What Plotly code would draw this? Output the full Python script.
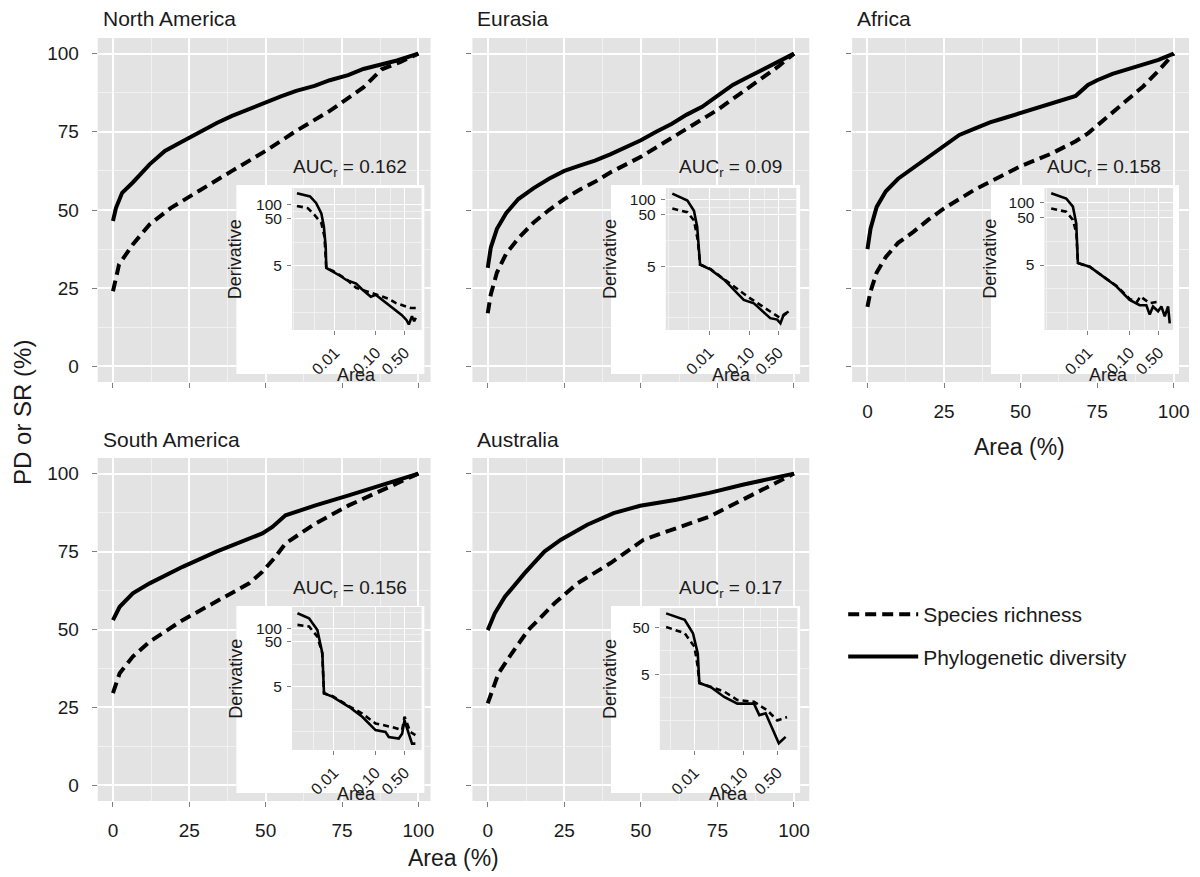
import plotly.graph_objects as go

# page body has an 8px margin, so the figure is drawn 8px right/down of the window origin
OFF = 8
WF, HF = 1192, 869

# ---------------- main curves (Area %, diversity %) ----------------
regions = ["North America", "Eurasia", "Africa", "South America", "Australia"]
auc_values = ["0.162", "0.09", "0.158", "0.156", "0.17"]

na_pd_x = [0, 1, 3, 6.5, 12, 17, 23, 28, 34, 39, 45, 50, 55, 60, 66, 71, 77, 82, 88, 93, 100]
na_pd_y = [46.5, 50.7, 55.5, 58.8, 64.6, 68.9, 72.1, 74.8, 77.8, 80.1, 82.5, 84.4, 86.3, 88.1, 89.7, 91.5, 93.1, 95.1, 96.5, 97.8, 100]
na_sr_x = [0, 2, 6.5, 12, 19, 28, 39, 50, 60, 71, 82, 88, 94, 100]
na_sr_y = [24, 32.6, 39, 45.4, 50.7, 56.1, 62.5, 68.9, 75.3, 81.7, 89.2, 95, 97.3, 100]

eu_pd_x = [0, 1, 3, 6, 10, 15, 20, 25, 30, 35, 40, 45, 50, 55, 60, 65, 70, 75, 80, 85, 90, 95, 100]
eu_pd_y = [31.5, 38, 44, 49, 53.5, 57, 60, 62.5, 64.2, 65.8, 67.8, 70, 72.3, 75, 77.5, 80.5, 83, 86.5, 90, 92.5, 95, 97.5, 100]
eu_sr_x = [0, 1, 3, 6, 10, 15, 20, 25, 30, 35, 40, 45, 50, 55, 60, 65, 70, 75, 80, 85, 90, 95, 100]
eu_sr_y = [17, 23, 30, 36, 41, 46, 50, 53.5, 56.5, 59, 62, 64.5, 67, 70, 73, 76, 79, 82, 85.5, 89, 92.5, 96, 100]

af_pd_x = [0, 1, 3, 6, 10, 15, 20, 25, 30, 35, 40, 45, 50, 55, 60, 65, 68, 72, 75, 80, 85, 90, 95, 100]
af_pd_y = [37.5, 44, 51, 56, 60, 63.5, 67, 70.5, 74, 76, 78, 79.5, 81, 82.5, 84, 85.5, 86.5, 90, 91.5, 93.5, 95, 96.5, 98, 100]
af_sr_x = [0, 1, 3, 6, 10, 15, 20, 25, 30, 35, 40, 45, 50, 55, 60, 65, 68, 72, 75, 80, 85, 90, 95, 100]
af_sr_y = [19, 24, 30, 35, 39.5, 43, 47, 50.5, 53.5, 56.5, 59, 61.5, 64, 66, 68, 70.5, 72, 74.5, 77, 81, 85, 89.5, 94.5, 100]

sa_pd_x = [0, 2.2, 6.5, 12, 22.8, 33.7, 48.9, 52.2, 56.5, 66.3, 77.2, 88, 100]
sa_pd_y = [53, 57.3, 61.6, 64.8, 70.1, 74.9, 80.8, 82.9, 86.6, 89.8, 93, 96.3, 100]
sa_sr_x = [0, 2.2, 6.5, 12, 22.8, 33.7, 44.6, 48.9, 53.2, 56.5, 66.3, 77.2, 88, 100]
sa_sr_y = [29.6, 36, 41.3, 46.1, 53, 58.9, 64.8, 68.5, 73.3, 77.6, 84, 89.8, 94.7, 100]

au_pd_x = [0, 2.3, 5.6, 12, 18.5, 23.9, 32.5, 41.1, 49.8, 61.6, 72.4, 83.2, 100]
au_pd_y = [49.8, 55.2, 60.5, 68, 75, 78.8, 83.6, 87.3, 89.7, 91.6, 93.8, 96.4, 100]
au_sr_x = [0, 3.5, 7.8, 13.2, 21.8, 29.3, 40.1, 50.9, 61.6, 72.4, 83.2, 100]
au_sr_y = [26.3, 35.9, 42.3, 49.8, 58.4, 64.8, 71.3, 78.8, 82.5, 86.2, 91.6, 100]

main_ticks = [0, 25, 50, 75, 100]

# ---------------- inset curves (Area fraction, derivative) ----------------
na_ipd_x = [0.0012, 0.0025, 0.0035, 0.0047, 0.0054, 0.006, 0.0062, 0.009, 0.014, 0.019, 0.026, 0.033, 0.045, 0.06, 0.075, 0.1, 0.14, 0.2, 0.3, 0.42, 0.55, 0.63, 0.75, 0.85, 0.93]
na_ipd_y = [178, 151, 110, 66, 35, 13, 4.5, 3.8, 3.0, 2.5, 2.3, 2.1, 1.6, 1.3, 1.1, 1.2, 0.95, 0.75, 0.55, 0.45, 0.35, 0.28, 0.42, 0.33, 0.39]
na_isr_x = [0.0012, 0.0022, 0.0032, 0.0047, 0.0056, 0.0062, 0.009, 0.019, 0.033, 0.05, 0.1, 0.2, 0.3, 0.5, 0.7, 0.93]
na_isr_y = [95, 85, 61, 41, 21, 4.5, 3.9, 2.6, 1.7, 1.5, 1.23, 1.0, 0.81, 0.7, 0.63, 0.63]

eu_ipd_x = [0.00126, 0.00295, 0.00427, 0.00513, 0.00603, 0.011, 0.0234, 0.0708, 0.126, 0.316, 0.468, 0.562, 0.676, 0.891]
eu_ipd_y = [129, 95, 60, 29, 5.4, 4.3, 2.75, 1.11, 0.95, 0.49, 0.46, 0.39, 0.575, 0.66]
eu_isr_x = [0.00126, 0.00295, 0.00427, 0.0053, 0.00603, 0.011, 0.0234, 0.1, 0.316, 0.562, 0.8]
eu_isr_y = [66, 56, 39, 16, 5.4, 4.4, 2.8, 1.2, 0.66, 0.49, 0.62]

af_ipd_x = [0.00132, 0.00302, 0.00437, 0.00525, 0.00575, 0.011, 0.0229, 0.0479, 0.1, 0.174, 0.251, 0.302, 0.363, 0.479, 0.575, 0.692, 0.832, 0.912]
af_ipd_y = [158, 123, 83, 37, 5.5, 4.6, 2.9, 1.8, 0.93, 0.72, 0.72, 0.46, 0.68, 0.54, 0.68, 0.42, 0.68, 0.30]
af_isr_x = [0.00132, 0.00302, 0.00437, 0.0053, 0.00575, 0.011, 0.0229, 0.0479, 0.1, 0.15, 0.18, 0.3, 0.48]
af_isr_y = [76, 65, 44, 23, 5.5, 4.6, 2.9, 1.85, 0.98, 0.85, 1.1, 0.8, 0.85]

sa_ipd_x = [0.00132, 0.00251, 0.00398, 0.00525, 0.00575, 0.00912, 0.0229, 0.0479, 0.1, 0.174, 0.209, 0.363, 0.437, 0.5, 0.631, 0.759, 0.912]
sa_ipd_y = [214, 166, 91, 27.5, 3.55, 3.0, 1.78, 1.07, 0.54, 0.49, 0.38, 0.35, 0.45, 0.89, 0.45, 0.27, 0.27]
sa_isr_x = [0.00132, 0.00251, 0.00398, 0.0052, 0.00575, 0.00912, 0.0229, 0.0479, 0.1, 0.251, 0.437, 0.5, 0.69, 0.912]
sa_isr_y = [118, 109, 65, 28, 3.55, 3.1, 1.85, 1.26, 0.76, 0.63, 0.54, 1.07, 0.49, 0.42]

au_ipd_x = [0.00263, 0.00631, 0.00933, 0.0117, 0.0126, 0.0219, 0.0407, 0.0759, 0.166, 0.214, 0.288, 0.537, 0.741]
au_ipd_y = [102, 74, 38, 14, 3.2, 2.6, 1.6, 1.15, 1.15, 0.65, 0.71, 0.16, 0.22]
au_isr_x = [0.00263, 0.00631, 0.01, 0.0117, 0.0126, 0.0407, 0.0759, 0.166, 0.31, 0.5, 0.79]
au_isr_y = [52, 38, 19.5, 7.2, 3.2, 2.1, 1.38, 1.26, 0.83, 0.5, 0.59]

inset_xticks = [0.01, 0.1, 0.5]
inset_xticktext = ["0.01", "0.10", "0.50"]
inset_xminor = [0.001, 0.00316, 0.0316, 0.224]
inset_yticks_std = [5, 50, 100]
inset_yticks_au = [5, 50]
inset_yminor = [0.5, 1.58, 15.8, 70.7, 224]

main_data = [(na_pd_x, na_pd_y, na_sr_x, na_sr_y), (eu_pd_x, eu_pd_y, eu_sr_x, eu_sr_y),
             (af_pd_x, af_pd_y, af_sr_x, af_sr_y), (sa_pd_x, sa_pd_y, sa_sr_x, sa_sr_y),
             (au_pd_x, au_pd_y, au_sr_x, au_sr_y)]
inset_data = [(na_ipd_x, na_ipd_y, na_isr_x, na_isr_y), (eu_ipd_x, eu_ipd_y, eu_isr_x, eu_isr_y),
              (af_ipd_x, af_ipd_y, af_isr_x, af_isr_y), (sa_ipd_x, sa_ipd_y, sa_isr_x, sa_isr_y),
              (au_ipd_x, au_ipd_y, au_isr_x, au_isr_y)]

# ---------------- layout geometry (window pixels) ----------------
panels = [(98, 432, 38, 382), (474, 812, 38, 382), (855, 1193, 38, 382),
          (98, 432, 458, 801), (474, 812, 458, 801)]
x_ranges = [[-5, 104], [-5, 105], [-5, 105], [-5, 104], [-5, 105]]
white_boxes = [(237, 426, 185, 374), (613, 803, 185, 374), (994, 1183, 185, 374),
               (237, 426, 606, 793), (613, 803, 606, 793)]
inset_areas = [(293, 423, 188, 330), (668, 799, 188, 330), (1048, 1177, 188, 330),
               (293, 423, 607, 750), (662, 800, 608, 750)]
inset_xr = [[-3.04, 0.11], [-3.06, 0.14], [-3.04, 0.04], [-3.01, 0.11], [-2.71, 0.11]]
inset_yr = [[-0.67, 2.36], [-0.54, 2.22], [-0.66, 2.31], [-0.71, 2.47], [-0.94, 2.125]]
show_xlab = [False, False, True, True, True]
show_ylab = [True, False, False, True, False]

def fx(p):
    return (p - OFF) / WF

def fy(p):
    return 1 - (p - OFF) / HF

BG = "#E3E3E3"
FONT = "Liberation Sans, Arial, sans-serif"
TXT = "#1a1a1a"
TICKC = "#7f7f7f"

fig = go.Figure()
layout = dict(width=WF, height=HF, margin=dict(l=0, r=0, t=0, b=0),
              paper_bgcolor="white", plot_bgcolor=BG,
              font=dict(family=FONT, color=TXT),
              showlegend=True)
shapes = []
annotations = []

def sfx(i):
    return "" if i == 1 else str(i)

# main panels: axes 1-5
for k in range(5):
    i = k + 1
    l, r, t, b = panels[k]
    pdx, pdy, srx, sry = main_data[k]
    fig.add_trace(go.Scatter(x=srx, y=sry, mode="lines", name="Species richness",
                             line=dict(color="black", width=4, dash="11px,6px"),
                             xaxis="x" + sfx(i), yaxis="y" + sfx(i),
                             legendgroup="sr", showlegend=(k == 0), hoverinfo="skip"))
    fig.add_trace(go.Scatter(x=pdx, y=pdy, mode="lines", name="Phylogenetic diversity",
                             line=dict(color="black", width=4),
                             xaxis="x" + sfx(i), yaxis="y" + sfx(i),
                             legendgroup="pd", showlegend=(k == 0), hoverinfo="skip"))
    layout["xaxis" + sfx(i)] = dict(
        domain=[fx(l), fx(r)], range=x_ranges[k], anchor="y" + sfx(i),
        tickvals=main_ticks, showticklabels=show_xlab[k], ticks="outside", ticklen=5,
        tickwidth=1.3, tickcolor=TICKC, ticklabelstandoff=7,
        tickfont=dict(size=19, color=TXT), showgrid=True, gridcolor="white", gridwidth=1.6,
        zeroline=False, showline=False,
        minor=dict(tickvals=[12.5, 37.5, 62.5, 87.5], showgrid=True, gridcolor="#F1F1F1", gridwidth=0.8, ticks=""))
    layout["yaxis" + sfx(i)] = dict(
        domain=[fy(b), fy(t)], range=[-5, 105], anchor="x" + sfx(i),
        tickvals=main_ticks, showticklabels=show_ylab[k], ticks="outside", ticklen=5,
        tickwidth=1.3, tickcolor=TICKC, ticklabelstandoff=9,
        tickfont=dict(size=19, color=TXT), showgrid=True, gridcolor="white", gridwidth=1.6,
        zeroline=False, showline=False,
        minor=dict(tickvals=[12.5, 37.5, 62.5, 87.5], showgrid=True, gridcolor="#F1F1F1", gridwidth=0.8, ticks=""))
    annotations.append(dict(text=regions[k], x=fx(l + 3), y=fy(t - 19), xref="paper", yref="paper",
                            xanchor="left", yanchor="middle", showarrow=False,
                            font=dict(size=21, color=TXT)))

# white boxes: axes 6-10
for k in range(5):
    i = k + 6
    l, r, t, b = white_boxes[k]
    fig.add_trace(go.Scatter(x=[], y=[], xaxis="x" + str(i), yaxis="y" + str(i),
                             showlegend=False, hoverinfo="skip"))
    layout["xaxis" + str(i)] = dict(domain=[fx(l), fx(r)], range=[0, 1], anchor="y" + str(i),
                                    showgrid=False, zeroline=False, showticklabels=False, ticks="")
    layout["yaxis" + str(i)] = dict(domain=[fy(b), fy(t)], range=[0, 1], anchor="x" + str(i),
                                    showgrid=False, zeroline=False, showticklabels=False, ticks="")
    shapes.append(dict(type="rect", xref="x" + str(i), yref="y" + str(i), x0=0, x1=1, y0=0, y1=1,
                       fillcolor="white", line=dict(width=0), layer="below"))

# insets: axes 11-15
for k in range(5):
    i = k + 11
    l, r, t, b = inset_areas[k]
    pdx, pdy, srx, sry = inset_data[k]
    fig.add_trace(go.Scatter(x=srx, y=sry, mode="lines", line=dict(color="black", width=2.6, dash="6px,4px"),
                             xaxis="x" + str(i), yaxis="y" + str(i), showlegend=False, hoverinfo="skip"))
    fig.add_trace(go.Scatter(x=pdx, y=pdy, mode="lines", line=dict(color="black", width=2.6),
                             xaxis="x" + str(i), yaxis="y" + str(i), showlegend=False, hoverinfo="skip"))
    yt = inset_yticks_au if k == 4 else inset_yticks_std
    layout["xaxis" + str(i)] = dict(
        domain=[fx(l), fx(r)], type="log", range=inset_xr[k], anchor="y" + str(i),
        tickvals=inset_xticks, ticktext=inset_xticktext, tickangle=-45,
        ticks="outside", ticklen=4, tickwidth=1.2, tickcolor=TICKC, ticklabelstandoff=2,
        tickfont=dict(size=16, color=TXT), showgrid=True, gridcolor="white", gridwidth=1.3,
        zeroline=False, showline=False,
        minor=dict(tickvals=inset_xminor, showgrid=True, gridcolor="#F1F1F1", gridwidth=0.7, ticks=""))
    layout["yaxis" + str(i)] = dict(
        domain=[fy(b), fy(t)], type="log", range=inset_yr[k], anchor="x" + str(i),
        tickvals=yt, ticktext=[str(v) for v in yt],
        ticks="outside", ticklen=4, tickwidth=1.2, tickcolor=TICKC, ticklabelstandoff=2,
        tickfont=dict(size=15.5, color=TXT), showgrid=True, gridcolor="white", gridwidth=1.3,
        zeroline=False, showline=False,
        minor=dict(tickvals=inset_yminor, showgrid=True, gridcolor="#F1F1F1", gridwidth=0.7, ticks=""))
    wl, wr, wt, wb = white_boxes[k]
    annotations.append(dict(text="Derivative", x=fx(wl - 1), y=fy((t + b) / 2), xref="paper", yref="paper",
                            textangle=-90, xanchor="center", yanchor="middle", showarrow=False,
                            font=dict(size=18, color=TXT)))
    annotations.append(dict(text="Area", x=fx((l + r) / 2), y=fy(wb + 1), xref="paper", yref="paper",
                            xanchor="center", yanchor="middle", showarrow=False,
                            font=dict(size=18, color=TXT)))
    annotations.append(dict(text="AUC<sub>r</sub> = " + auc_values[k], x=fx(wr - 16), y=fy(wt - 17),
                            xref="paper", yref="paper", xanchor="right", yanchor="middle",
                            showarrow=False, font=dict(size=19, color=TXT)))

# axis titles
annotations.append(dict(text="Area (%)", x=fx(1023), y=fy(447), xref="paper", yref="paper",
                        xanchor="center", yanchor="middle", showarrow=False, font=dict(size=23, color=TXT)))
annotations.append(dict(text="Area (%)", x=fx(455), y=fy(858), xref="paper", yref="paper",
                        xanchor="center", yanchor="middle", showarrow=False, font=dict(size=23, color=TXT)))
annotations.append(dict(text="PD or SR (%)", x=fx(22), y=fy(412), xref="paper", yref="paper",
                        textangle=-90, xanchor="center", yanchor="middle", showarrow=False,
                        font=dict(size=24, color=TXT)))

layout["shapes"] = shapes
layout["annotations"] = annotations
layout["legend"] = dict(x=fx(846), y=fy(594), xanchor="left", yanchor="top",
                        font=dict(size=21, color=TXT), bgcolor="rgba(0,0,0,0)",
                        tracegroupgap=12, itemwidth=70, traceorder="grouped")
fig.update_layout(**layout)
fig.write_html("out.html")
